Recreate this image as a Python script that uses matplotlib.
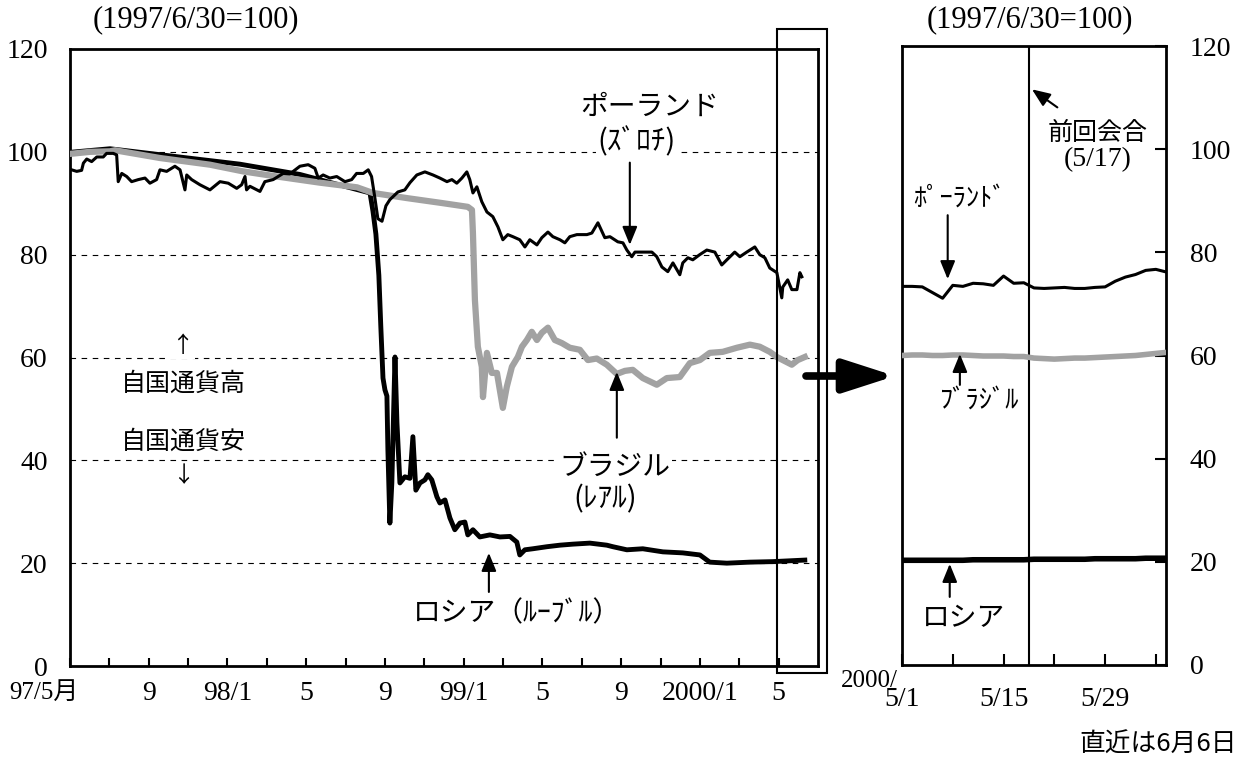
import matplotlib
matplotlib.use("Agg")
from matplotlib import pyplot as plt
from matplotlib.patches import Rectangle
import numpy as np

plt.rcParams['font.family'] = ['Liberation Serif', 'Noto Sans CJK JP']
JP = ['Noto Sans CJK JP', 'DejaVu Sans']
NUM = ['Liberation Serif', 'Noto Sans CJK JP']

# ---- left panel: months since 1997/5/1, index 1997/6/30 = 100 ----
pol_t = [0.00, 0.34, 0.59, 0.68, 0.85, 1.10, 1.36, 1.69, 1.86, 2.20, 2.37, 2.45, 2.63, 2.88,
         3.13, 3.47, 3.81, 4.06, 4.40, 4.57, 4.91, 5.33, 5.59, 5.84, 5.93, 6.18, 6.60, 7.11,
         7.62, 8.04, 8.47, 8.72, 8.89, 8.97, 9.14, 9.65, 9.90, 10.32, 10.83, 11.17, 11.68,
         12.10, 12.44, 12.61, 12.86, 13.20, 13.55, 13.97, 14.31, 14.56, 14.90, 15.15, 15.32,
         15.49, 15.64, 15.85, 16.05, 16.25, 16.66, 17.01, 17.27, 17.62, 18.03, 18.44, 18.79,
         19.15, 19.40, 19.65, 19.91, 20.16, 20.31, 20.47, 20.67, 20.92, 21.18, 21.48, 21.74,
         21.99, 22.24, 22.50, 22.85, 23.11, 23.36, 23.72, 23.97, 24.28, 24.53, 24.89, 25.14,
         25.39, 25.75, 26.26, 26.51, 26.82, 27.17, 27.43, 27.83, 28.09, 28.29, 28.54, 28.70,
         29.10, 29.56, 29.81, 30.07, 30.37, 30.63, 30.98, 31.13, 31.39, 31.64, 31.99, 32.35,
         32.76, 33.11, 33.37, 33.77, 34.03, 34.38, 34.79, 35.04, 35.30, 35.55, 35.91, 36.16,
         36.21, 36.46, 36.67, 36.93, 37.08, 37.18]
pol_v = [96.6, 96.2, 96.4, 97.8, 98.6, 98.1, 99.0, 99.0, 99.7, 99.7, 99.4, 94.2, 95.8, 95.2,
         94.2, 94.6, 94.9, 93.9, 94.6, 96.5, 96.2, 97.2, 96.5, 92.6, 95.5, 94.6, 93.6, 92.6,
         94.2, 93.9, 92.9, 93.6, 95.2, 92.6, 93.3, 92.3, 94.2, 94.6, 95.8, 95.7, 97.2,
         97.5, 96.8, 94.9, 95.5, 94.9, 95.2, 94.2, 94.6, 95.8, 95.8, 96.5, 95.2,
         91.0, 87.0, 86.5, 89.5, 90.7, 92.2, 92.6, 94.0, 95.5, 96.1, 95.5, 94.9,
         94.2, 94.6, 93.9, 94.9, 96.1, 94.6, 92.0, 93.2, 90.3, 88.3, 87.4, 85.4,
         82.9, 83.9, 83.5, 82.9, 81.5, 82.9, 81.9, 83.3, 84.4, 83.5, 82.9, 82.3,
         83.5, 83.9, 83.9, 84.2, 86.2, 83.3, 83.5, 82.5, 82.3, 80.9, 79.6, 80.5,
         80.5, 80.5, 79.6, 77.6, 76.7, 78.4, 76.1, 78.4, 79.4, 79.0, 80.0, 80.9,
         80.5, 78.0, 79.0, 80.5, 79.6, 80.5, 81.5, 80.0, 79.4, 77.4, 76.5, 71.6,
         73.7, 75.1, 73.2, 73.2, 76.5, 75.7]

bra_t = [0.00, 1.02, 2.03, 2.29, 4.57, 7.11, 8.79, 10.51, 12.70, 14.58, 15.39, 17.12, 18.79,
         20.21, 20.42, 20.47, 20.57, 20.72, 20.92, 20.98, 21.18, 21.43, 21.69, 21.99, 22.19,
         22.45, 22.75, 22.96, 23.21, 23.46, 23.72, 23.97, 24.28, 24.63, 24.99, 25.39, 25.90,
         26.31, 26.76, 27.27, 27.78, 28.19, 28.59, 29.10, 29.81, 30.32, 30.98, 31.49, 32.00,
         32.50, 33.16, 33.88, 34.54, 35.04, 35.55, 35.91, 36.21, 36.67, 36.97, 37.33]
bra_v = [99.6, 100.0, 100.1, 100.3, 98.8, 97.5, 96.2, 95.2, 94.0, 93.1, 92.0, 91.0, 90.1,
         89.3, 88.7, 84.2, 71.2, 62.1, 58.2, 52.3, 60.9, 57.0, 57.0, 50.2, 54.3,
         58.2, 60.1, 62.1, 63.4, 65.0, 63.4, 64.8, 65.8, 63.4, 62.8, 61.9, 61.5,
         59.5, 59.8, 58.6, 56.8, 57.4, 57.6, 56.0, 54.7, 56.0, 56.2, 58.9, 59.5,
         60.9, 61.1, 61.9, 62.5, 62.1, 61.1, 60.1, 59.5, 58.6, 59.5, 60.1]

rus_t = [0.00, 2.03, 8.63, 11.68, 15.24, 15.39, 15.54, 15.69, 15.79, 15.90, 16.00, 16.10,
         16.15, 16.25, 16.35, 16.51, 16.61, 16.76, 17.01, 17.27, 17.42, 17.57, 17.78, 18.03,
         18.18, 18.38, 18.64, 18.79, 19.05, 19.30, 19.55, 19.81, 20.06, 20.21, 20.47, 20.82,
         21.33, 21.84, 22.35, 22.70, 22.85, 23.11, 23.51, 24.23, 24.89, 25.55, 26.41, 27.27,
         27.58, 28.29, 29.10, 30.12, 31.13, 32.00, 32.50, 33.37, 34.54, 35.70, 37.33]
rus_v = [99.9, 100.6, 97.6, 95.6, 92.0, 88.5, 84.0, 76.0, 66.0, 56.0, 53.7, 52.5,
         42.0, 27.8, 35.6, 60.1, 47.3, 35.6, 36.8, 36.5, 44.6, 34.2, 35.6, 36.2,
         37.2, 36.2, 32.9, 31.7, 32.3, 28.8, 26.5, 27.8, 28.0, 25.5, 26.5, 25.1,
         25.5, 25.1, 25.2, 24.1, 21.6, 22.6, 22.8, 23.2, 23.5, 23.7, 23.9, 23.5,
         23.2, 22.6, 22.8, 22.2, 22.0, 21.6, 20.2, 20.0, 20.2, 20.3, 20.6]

left_ticks = list(range(0, 37, 2))
left_labels = ['97/5月', '9', '98/1', '5', '9', '99/1', '5', '9', '2000/1', '5']

# ---- right panel: business days from 2000/5/1 ----
day = list(range(27))
pol_day = [73.4, 73.4, 73.3, 72.2, 71.1, 73.6, 73.4, 74.0, 73.9, 73.6, 75.4, 74.0, 74.1, 73.1,
           73.0, 73.1, 73.2, 73.0, 73.0, 73.2, 73.3, 74.4, 75.2, 75.7, 76.5, 76.7, 76.2]
bra_day = [60.0, 60.1, 60.1, 60.0, 60.0, 60.1, 60.1, 60.0, 59.9, 59.9, 59.9, 59.8, 59.8, 59.5,
           59.4, 59.3, 59.4, 59.5, 59.5, 59.6, 59.7, 59.8, 59.9, 60.0, 60.2, 60.4, 60.6]
rus_day = [20.3, 20.3, 20.3, 20.3, 20.3, 20.3, 20.3, 20.4, 20.4, 20.4, 20.4, 20.4, 20.4, 20.5,
           20.5, 20.5, 20.5, 20.5, 20.5, 20.6, 20.6, 20.6, 20.6, 20.6, 20.7, 20.7, 20.7]
right_ticks = [0, 5, 10, 15, 20, 25]
right_labels = ['5/1', '', '5/15', '', '5/29', '']
meeting_day = 12.5

yticks = [0, 20, 40, 60, 80, 100, 120]
gray = '#a2a2a2'

fig = plt.figure(figsize=(12.45, 7.64), dpi=100)
ax = fig.add_axes([70/1245, 1-666/764, 748/1245, 617/764])
ax2 = fig.add_axes([902/1245, 1-665/764, 264/1245, 619/764])

# left panel
for g in [20, 40, 60, 80, 100]:
    ax.axhline(g, color='black', lw=0.8, ls=(0, (5, 5)), zorder=1)
ax.plot(rus_t, rus_v, color='black', lw=3.5, zorder=2, solid_joinstyle='round')
ax.plot(bra_t, bra_v, color=gray, lw=4.5, zorder=3, solid_joinstyle='round')
ax.plot(pol_t, pol_v, color='black', lw=2.2, zorder=4, solid_joinstyle='round')
ax.set_xlim(0, 38)
ax.set_ylim(0, 120)
ax.set_yticks(yticks)
ax.set_xticks(left_ticks)
xl = [left_labels[i // 2] if i % 2 == 0 else '' for i in range(len(left_ticks))]
first_label = xl[0]
xl[0] = ''
ax.set_xticklabels(xl)
ax.tick_params(axis='x', direction='in', length=6, width=1.5, pad=11, labelsize=20)
ax.tick_params(axis='y', length=0, pad=16, labelsize=20)
for s in ax.spines.values():
    s.set_linewidth(2)
# first month label sits left of the axis start, as in the original
ax.text(-1.3, -5.2, first_label, family=NUM, fontsize=18, ha='center', va='center',
        clip_on=False)

box = dict(fc='white', ec='none', pad=1)
ax.text(29.46, 108.8, 'ポーランド', family=JP, fontsize=20, ha='center', va='center', bbox=box)
ax.text(28.8, 101.9, '(ｽﾞﾛﾁ)', family=JP, fontsize=21, ha='center', va='center', bbox=box)
ax.text(27.68, 38.7, 'ブラジル', family=JP, fontsize=20, ha='center', va='center', bbox=box)
ax.text(27.17, 32.5, '(ﾚｱﾙ)', family=JP, fontsize=21, ha='center', va='center', bbox=box)
ax.text(22.7, 10.3, 'ロシア（ﾙｰﾌﾞﾙ）', family=JP, fontsize=20, ha='center', va='center', bbox=box)
ax.text(5.72, 62.3, '↑', family=JP, fontsize=16, ha='center', va='center', bbox=box)
ax.text(5.74, 54.9, '自国通貨高', family=JP, fontsize=18, ha='center', va='center', bbox=box)
ax.text(5.74, 43.6, '自国通貨安', family=JP, fontsize=18, ha='center', va='center', bbox=box)
ax.text(5.74, 37.0, '↓', family=JP, fontsize=16, ha='center', va='center', bbox=box)

arr = dict(arrowstyle='-|>,head_length=1.1,head_width=0.45', color='black', lw=1.5,
           mutation_scale=10, shrinkA=0, shrinkB=0)
ax.annotate('', xy=(28.44, 81.9), xytext=(28.44, 97.9), arrowprops=arr)
ax.annotate('', xy=(27.78, 57.2), xytext=(27.78, 44.4), arrowprops=arr)
ax.annotate('', xy=(21.28, 22.0), xytext=(21.28, 14.4), arrowprops=arr)

# right panel
ax2.plot(day, rus_day, color='black', lw=4, zorder=2)
ax2.plot(day, bra_day, color=gray, lw=4, zorder=3)
ax2.plot(day, pol_day, color='black', lw=2.2, zorder=4)
ax2.axvline(meeting_day, color='black', lw=1.5, zorder=1)
ax2.set_xlim(0, 26)
ax2.set_ylim(0, 120)
ax2.set_yticks(yticks)
ax2.set_xticks(right_ticks)
ax2.set_xticklabels(right_labels)
ax2.yaxis.tick_right()
ax2.tick_params(axis='y', direction='in', length=8, width=1.5, pad=17, labelsize=20,
                left=False, labelleft=False, right=True, labelright=True)
ax2.tick_params(axis='x', direction='in', length=8, width=1.5, pad=16, labelsize=20)
for s in ax2.spines.values():
    s.set_linewidth(2)

ax2.text(19.3, 103.1, '前回会合', family=JP, fontsize=18, ha='center', va='center')
ax2.text(19.3, 97.9, '(5/17)', family=NUM, fontsize=20, ha='center', va='center')
ax2.annotate('', xy=(12.8, 111.6), xytext=(15.3, 108.1), arrowprops=arr)
ax2.text(5.7, 90.5, 'ﾎﾟｰﾗﾝﾄﾞ', family=JP, fontsize=19, ha='center', va='center')
ax2.annotate('', xy=(4.5, 74.8), xytext=(4.5, 87.2), arrowprops=arr)
ax2.text(7.6, 51.4, 'ﾌﾞﾗｼﾞﾙ', family=JP, fontsize=19, ha='center', va='center')
ax2.annotate('', xy=(5.7, 60.3), xytext=(5.7, 54.3), arrowprops=arr)
ax2.text(6.1, 9.1, 'ロシア', family=JP, fontsize=20, ha='center', va='center')
ax2.annotate('', xy=(4.7, 19.6), xytext=(4.7, 13.2), arrowprops=arr)

# figure-level texts and shapes
fig.text(196/1245, 1-20/764, '(1997/6/30=100)', family=NUM, fontsize=22, ha='center', va='center')
fig.text(1030/1245, 1-20/764, '(1997/6/30=100)', family=NUM, fontsize=22, ha='center', va='center')
fig.text(869/1245, 1-681/764, '2000/', family=NUM, fontsize=18, ha='center', va='center')
fig.text(1158/1245, 1-745/764, '直近は6月6日', family=JP, fontsize=18.5, ha='center', va='center')

fig.patches.append(Rectangle((777/1245, 1-673/764), 50/1245, 644/764, fill=False,
                             lw=1.5, ec='black', transform=fig.transFigure))
ax.annotate('', xy=(895, 764-376), xycoords='figure pixels',
            xytext=(806, 764-376), textcoords='figure pixels',
            arrowprops=dict(arrowstyle='-|>,head_length=3.1,head_width=1.0', color='black',
                            lw=5.5, mutation_scale=10, shrinkA=0, shrinkB=0))

fig.savefig('out.png', dpi=100)
